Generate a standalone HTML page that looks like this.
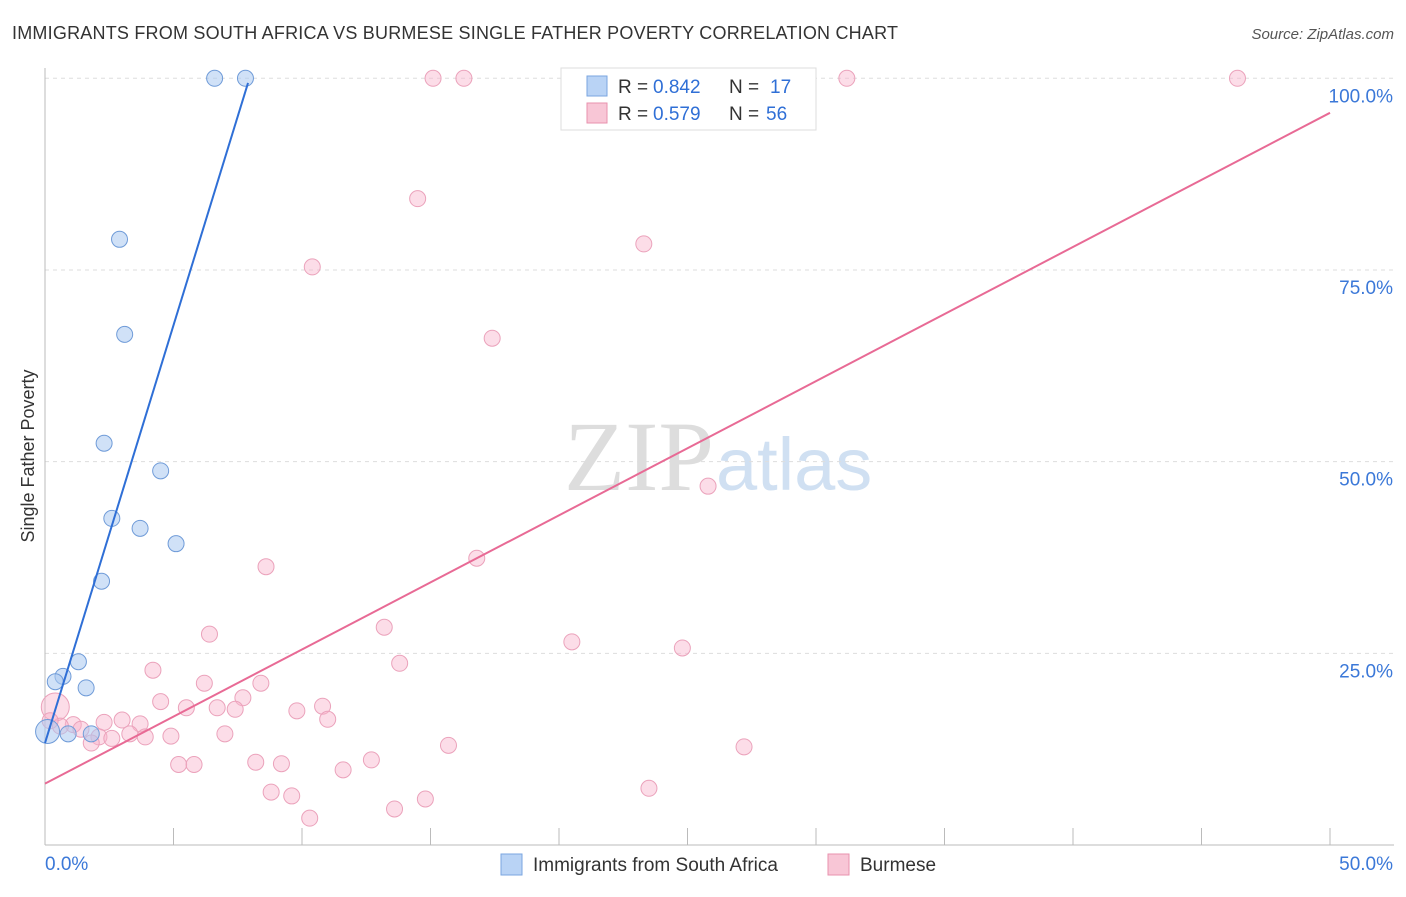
<!DOCTYPE html>
<html><head><meta charset="utf-8"><style>
body{margin:0;background:#fff;font-family:"Liberation Sans",sans-serif;}
</style></head><body>
<svg id="c" width="1406" height="892" xmlns="http://www.w3.org/2000/svg">
<text x="12" y="39" font-size="18" fill="#333" textLength="886">IMMIGRANTS FROM SOUTH AFRICA VS BURMESE SINGLE FATHER POVERTY CORRELATION CHART</text>
<text x="1394" y="39" font-size="15" fill="#555" font-style="italic" text-anchor="end">Source: ZipAtlas.com</text>
<text x="34" y="456" font-size="18" fill="#333" text-anchor="middle" transform="rotate(-90 34 456)">Single Father Poverty</text>
<text x="714" y="490" font-size="100" fill="#ddd" text-anchor="end" font-family="Liberation Serif,serif">ZIP</text>
<text x="716" y="490" font-size="74" fill="#d0e0f2">atlas</text>
<g id="grid"></g><g id="marks"></g>
<g>
<rect x="561" y="68" width="255" height="62" fill="#fff" stroke="#ddd"/>
<rect x="587" y="76" width="20" height="20" fill="#b9d3f5" stroke="#7aa6e0"/>
<rect x="587" y="103" width="20" height="20" fill="#f8c6d6" stroke="#e891ae"/>
<text y="93" font-size="19" fill="#333"><tspan x="618">R =</tspan><tspan x="653" fill="#2f6fd6">0.842</tspan><tspan x="729">N =</tspan><tspan x="770" fill="#2f6fd6">17</tspan></text>
<text y="120" font-size="19" fill="#333"><tspan x="618">R =</tspan><tspan x="653" fill="#2f6fd6">0.579</tspan><tspan x="729">N =</tspan><tspan x="766" fill="#2f6fd6">56</tspan></text>
</g>
<g>
<rect x="501" y="854" width="21" height="21" fill="#b9d3f5" stroke="#7aa6e0"/>
<text x="533" y="871" font-size="19" fill="#333">Immigrants from South Africa</text>
<rect x="828" y="854" width="21" height="21" fill="#f8c6d6" stroke="#e891ae"/>
<text x="860" y="871" font-size="19" fill="#333">Burmese</text>
</g>
</svg>
<script>
const yTicks=[25,50,75,100];
const xTickLabels=["0.0%","50.0%"];
const blueX=[6.6,7.8,2.9,3.1,2.3,4.5,2.6,3.7,5.1,2.2,1.3,0.7,0.4,1.6,0.9,1.8,0.1];
const blueY=[100,100,79,66.6,52.4,48.8,42.6,41.3,39.3,34.4,23.9,22,21.3,20.5,14.5,14.5,14.8];
const pinkX=[15.1,16.3,31.2,46.4,14.5,23.3,10.4,17.4,25.8,16.8,8.6,13.2,20.5,6.4,24.8,13.8,4.2,6.2,8.4,4.5,7.7,5.5,6.7,7.4,9.8,10.8,11,3,3.7,2.3,1.1,1.4,2.1,1.8,2.6,3.3,3.9,4.9,7.0,15.7,27.2,12.7,5.2,5.8,8.2,9.2,11.6,8.8,9.6,14.8,13.6,10.3,23.5,0.4,0.6,0.2];
const pinkY=[100,100,100,100,84.3,78.4,75.4,66.1,46.8,37.4,36.3,28.4,26.5,27.5,25.7,23.7,22.8,21.1,21.1,18.7,19.2,17.9,17.9,17.7,17.5,18.1,16.4,16.3,15.8,16.0,15.7,15.1,14.1,13.3,13.9,14.5,14.1,14.2,14.5,13.0,12.8,11.1,10.5,10.5,10.8,10.6,9.8,6.9,6.4,6.0,4.7,3.5,7.4,18.0,15.5,16.2];
const blueLine=[[0,13.3],[7.9,99.4]];
const pinkLine=[[0,8],[50,95.5]];
const X=v=>45+v*25.7, Y=v=>845-v*7.667;
const NS="http://www.w3.org/2000/svg";
const g=document.getElementById('grid'), m=document.getElementById('marks');
function el(t,a,p){const e=document.createElementNS(NS,t);for(const k in a)e.setAttribute(k,a[k]);p.appendChild(e);return e;}
yTicks.forEach(t=>{
 const l=el('line',{x1:45,x2:1394,y1:Y(t),y2:Y(t),stroke:'#ddd','stroke-dasharray':'4,4'},g);
 
 
 const tx=el('text',{x:1393,y:Y(t)+24,'font-size':19,fill:'#3b78d8','text-anchor':'end'},g);
 tx.textContent=t.toFixed(1)+'%';
 
 
});
el('line',{x1:45,x2:45,y1:68,y2:845,stroke:'#bbb'},g);
el('line',{x1:45,x2:1394,y1:845,y2:845,stroke:'#bbb'},g);
for(let i=1;i<=10;i++){el('line',{x1:X(i*5),x2:X(i*5),y1:828,y2:845,stroke:'#bbb'},g);}
xTickLabels.forEach((s,i)=>{
 const tx=el('text',{x:i?1393:45,y:870,'font-size':19,fill:'#3b78d8','text-anchor':i?'end':'start'},g);
 tx.textContent=s;
 
 
});
pinkX.forEach((x,i)=>{
 const c=el('circle',{cx:X(x),cy:Y(pinkY[i]),r:i==53?14:8,fill:'rgba(248,180,204,0.45)',stroke:'#eba2bb'},m);
 
 
});
blueX.forEach((x,i)=>{
 const c=el('circle',{cx:X(x),cy:Y(blueY[i]),r:i==16?12:8,fill:'rgba(170,200,240,0.55)',stroke:'#6f9bd8'},m);
 
 
});
const bl=el('line',{x1:X(blueLine[0][0]),y1:Y(blueLine[0][1]),x2:X(blueLine[1][0]),y2:Y(blueLine[1][1]),stroke:'#2f6fd6','stroke-width':2},m);


const pl=el('line',{x1:X(pinkLine[0][0]),y1:Y(pinkLine[0][1]),x2:X(pinkLine[1][0]),y2:Y(pinkLine[1][1]),stroke:'#e86a95','stroke-width':2},m);


</script>
</body></html>
